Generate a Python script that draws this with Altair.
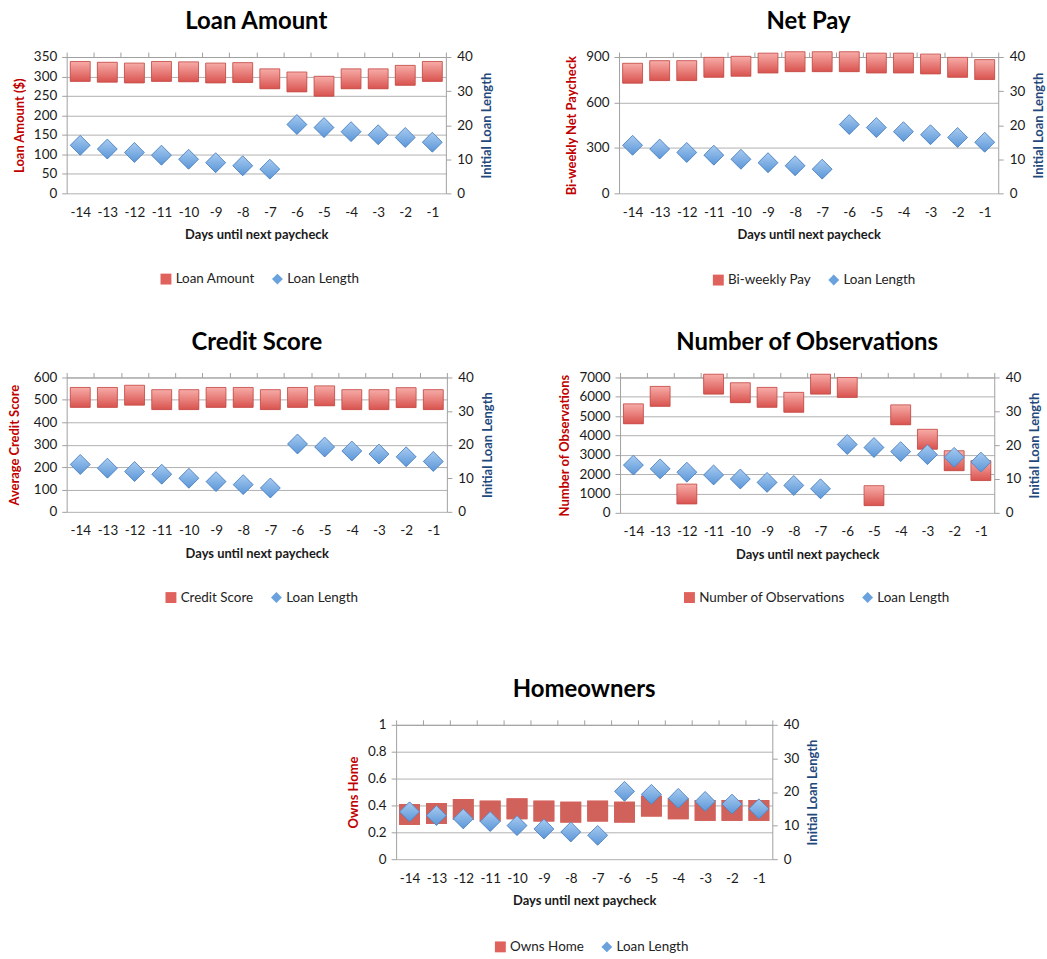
import altair as alt
import pandas as pd

# x categories: days until the next paycheck
days = list(range(-14, 0))
tick_edges = [d - 0.5 for d in days] + [-0.5]

# series shared by every panel (right axis)
loan_length = [14.1, 13.0, 12.0, 11.2, 10.0, 9.0, 8.1, 7.1, 20.2, 19.3, 18.1, 17.2, 16.4, 15.0]

# left-axis series, one per panel
loan_amount = [313, 311, 309, 313, 312, 309, 310, 294, 286, 275, 294, 294, 303, 313]
net_pay = [793, 810, 810, 832, 839, 860, 869, 869, 869, 860, 860, 854, 832, 817]
credit_score = [511, 511, 521, 501, 501, 511, 511, 501, 511, 518, 501, 501, 510, 501]
observations = [5120, 6024, 973, 6655, 6212, 5973, 5717, 6655, 6485, 887, 5068, 3805, 2696, 2184]
owns_home = [0.333, 0.34, 0.37, 0.358, 0.375, 0.358, 0.35, 0.358, 0.35, 0.395, 0.375, 0.363, 0.363, 0.363]

FONT = "Lato"
RED_TITLE = "#c00000"
BLUE_TITLE = "#1f497d"
GRID = "#b0b0b0"
AXIS = "#a0a0a0"
SQ_COLOR = "#e0625d"
DM_COLOR = "#6aa2dd"

sq_grad = alt.Gradient(
    gradient="linear",
    stops=[alt.GradientStop(color="#f7aca8", offset=0),
           alt.GradientStop(color="#d9534f", offset=1)],
    x1=0, x2=0, y1=0, y2=1,
)
dm_grad = alt.Gradient(
    gradient="linear",
    stops=[alt.GradientStop(color="#a7cbf0", offset=0),
           alt.GradientStop(color="#5b96d8", offset=1)],
    x1=0, x2=0, y1=0, y2=1,
)

x_scale = alt.Scale(domain=[-14.5, -0.5], nice=False, zero=False)
# plain hyphen for negative day labels
day_label = "datum.value < 0 ? '-' + (-datum.value) : '' + datum.value"


def panel(title, left_title, series_name, values, ymax, ystep, w, h,
          legend_x, legend_y, fmt="d", flat=False, left_title_pad=7):
    sq_df = pd.DataFrame({"day": days, "value": values, "series": series_name})
    dm_df = pd.DataFrame({"day": days, "length": loan_length, "series": "Loan Length"})

    color_scale = alt.Scale(domain=[series_name, "Loan Length"], range=[SQ_COLOR, DM_COLOR])
    shape_scale = alt.Scale(domain=[series_name, "Loan Length"], range=["square", "diamond"])
    legend = alt.Legend(
        title=None, orient="none", direction="horizontal",
        legendX=legend_x, legendY=legend_y,
        symbolSize=120, symbolStrokeWidth=0, labelOffset=3,
        columnPadding=16, padding=0,
    )

    n_steps = int(round(ymax / ystep))
    left_vals = [round(i * ystep, 6) for i in range(n_steps + 1)]
    y_left = alt.Scale(domain=[0, ymax], nice=False, zero=True)
    y_right = alt.Scale(domain=[0, 40], nice=False, zero=True)

    label_axis = alt.Axis(
        values=days, title="Days until next paycheck", tickSize=0, domain=False,
        grid=False, labelPadding=12, titlePadding=10, labelExpr=day_label,
    )
    tick_axis = alt.Axis(
        values=tick_edges, labels=False, title=None, tickSize=5, domain=True,
        grid=False,
    )
    left_axis = alt.Axis(
        orient="left", values=left_vals, title=left_title, titleColor=RED_TITLE,
        grid=True, tickSize=5, labelPadding=5, titlePadding=left_title_pad, format=fmt,
    )
    right_axis = alt.Axis(
        orient="right", values=[0, 10, 20, 30, 40], title="Initial Loan Length",
        titleColor=BLUE_TITLE, titleAngle=270, titleBaseline="top", grid=False,
        tickSize=5, labelPadding=6, titlePadding=8, format="d",
    )

    sq_size = 440 if flat else 400

    squares = alt.Chart(sq_df).mark_point(
        shape="square", filled=True, size=sq_size, opacity=1, strokeWidth=0,
    ).encode(
        x=alt.X("day:Q", scale=x_scale, axis=label_axis),
        y=alt.Y("value:Q", scale=y_left, axis=left_axis),
        color=alt.Color("series:N", scale=color_scale, legend=legend),
        shape=alt.Shape("series:N", scale=shape_scale, legend=legend),
    )
    if flat:
        squares_top = alt.Chart(sq_df).mark_point(
            shape="square", filled=True, size=sq_size, opacity=1,
            fill="#d0625b", strokeWidth=0,
        )
    else:
        squares_top = alt.Chart(sq_df).mark_point(
            shape="square", filled=True, size=sq_size, opacity=1,
            fill=sq_grad, stroke="#c24e49", strokeWidth=0.8,
        )
    squares_top = squares_top.encode(
        x=alt.X("day:Q", scale=x_scale, axis=None),
        y=alt.Y("value:Q", scale=y_left, axis=None),
    )

    diamonds = alt.Chart(dm_df).mark_point(
        shape="diamond", filled=True, size=400, opacity=1, strokeWidth=0,
    ).encode(
        x=alt.X("day:Q", scale=x_scale, axis=tick_axis),
        y=alt.Y("length:Q", scale=y_right, axis=right_axis),
        color=alt.Color("series:N", scale=color_scale, legend=legend),
        shape=alt.Shape("series:N", scale=shape_scale, legend=legend),
    )
    diamonds_top = alt.Chart(dm_df).mark_point(
        shape="diamond", filled=True, size=400, opacity=1,
        fill=dm_grad, stroke="#4f81bd", strokeWidth=0.8,
    ).encode(
        x=alt.X("day:Q", scale=x_scale, axis=None),
        y=alt.Y("length:Q", scale=y_right, axis=None),
    )

    return (
        alt.layer(squares, squares_top, diamonds, diamonds_top)
        .resolve_scale(y="independent")
        .resolve_axis(x="independent")
        .properties(width=w, height=h, title=alt.TitleParams(title))
    )


p1 = panel("Loan Amount", "Loan Amount ($)", "Loan Amount", loan_amount, 350, 50,
           381, 137, 93, 216)
p2 = panel("Net Pay", "Bi-weekly Net Paycheck", "Bi-weekly Pay", net_pay, 900, 300,
           381, 137, 93, 217)
p3 = panel("Credit Score", "Average Credit Score", "Credit Score", credit_score, 600, 100,
           382, 135, 98, 214, left_title_pad=12)
p4 = panel("Number of Observations", "Number of Observations", "Number of Observations",
           observations, 7000, 1000, 376, 136, 63, 214)
p5 = panel("Homeowners", "Owns Home", "Owns Home", owns_home, 1, 0.2,
           378, 135, 98, 216, fmt=".1~f", flat=True)

spacer = alt.Chart(pd.DataFrame({"a": [0]})).mark_point(opacity=0).encode(
    x=alt.value(0), y=alt.value(0)
).properties(width=280, height=1)


def indep(c):
    return c.resolve_scale(color="independent", shape="independent")


row1 = indep(alt.hconcat(p1, p2, spacing=71))
row2 = indep(alt.hconcat(p3, p4, spacing=63))
row3 = indep(alt.hconcat(spacer, p5, spacing=0))

top = indep(alt.vconcat(row1, row2, spacing=42))
chart = indep(alt.vconcat(top, row3, spacing=72)).properties(
    padding={"left": 8, "top": 7, "right": 0, "bottom": 0}
).configure(font=FONT).configure_view(stroke="transparent").configure_axis(
    labelFont=FONT, titleFont=FONT, labelColor="#1a1a1a", labelFontSize=13.5,
    titleFontSize=13, titleFontWeight="bold", titleColor="#1a1a1a",
    domainColor=AXIS, tickColor=AXIS, gridColor=GRID,
).configure_legend(
    labelFont=FONT, labelFontSize=13.5, labelColor="#222222",
).configure_title(
    font=FONT, fontSize=24, fontWeight="bold", color="#000000",
    anchor="middle", frame="group", offset=16,
)

chart.save("out.html", embed_options={"renderer": "svg", "actions": False})
